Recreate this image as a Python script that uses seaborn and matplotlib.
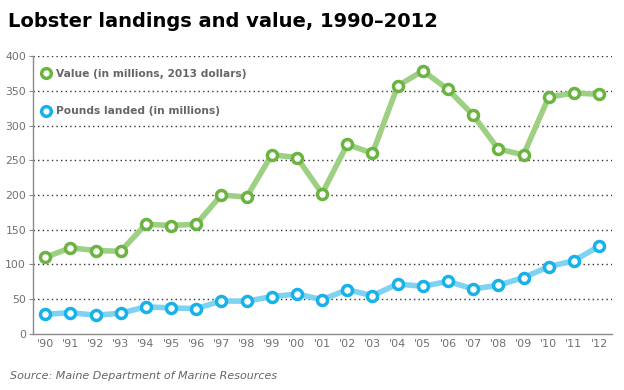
import matplotlib
matplotlib.use("Agg")
import matplotlib.pyplot as plt
from matplotlib.lines import Line2D
import seaborn as sns
import pandas as pd

years = ["'90", "'91", "'92", "'93", "'94", "'95", "'96", "'97", "'98", "'99", "'00",
         "'01", "'02", "'03", "'04", "'05", "'06", "'07", "'08", "'09", "'10", "'11", "'12"]
value = [110, 124, 120, 119, 158, 156, 158, 200, 197, 258, 254,
         202, 273, 260, 357, 379, 352, 315, 266, 258, 341, 347, 345]
pounds = [28, 30.6, 26.8, 29.7, 39, 37.3, 36.4, 47.4, 47, 53.6, 57.4,
          49.3, 63.6, 55, 71.8, 68.4, 75.6, 64.6, 70, 81, 96.7, 105.3, 126.3]
yticks = [0, 50, 100, 150, 200, 250, 300, 350, 400]

df = pd.DataFrame({"idx": range(len(years)), "value": value, "pounds": pounds})

sns.set_theme(style="white")
plt.rcParams["font.family"] = ["DejaVu Sans"]

fig = plt.figure(figsize=(6.24, 3.9), dpi=100)
ax = fig.add_axes([0.053, 0.144, 0.928, 0.712])

green_line, green_mk = "#9dd082", "#6cb442"
blue_line, blue_mk = "#7fd3f2", "#18b2e8"

for col, lc, mc in [("value", green_line, green_mk), ("pounds", blue_line, blue_mk)]:
    sns.lineplot(data=df, x="idx", y=col, ax=ax, color=lc, lw=4, zorder=3)
    sns.scatterplot(data=df, x="idx", y=col, ax=ax, s=52, facecolor="white",
                    edgecolor=mc, linewidth=2.5, zorder=4)

ax.set_xlim(-0.48, 22.52)
ax.set_ylim(0, 400)
ax.set_yticks(yticks)
ax.set_yticklabels([str(t) for t in yticks])
ax.set_xticks(range(len(years)))
ax.set_xticklabels(years)
ax.set_xlabel("")
ax.set_ylabel("")
for t in yticks[1:]:
    ax.axhline(t, color="#333333", lw=1.0, ls=(0, (1, 2.3)), zorder=1)

for s in ["top", "right"]:
    ax.spines[s].set_visible(False)
for s in ["left", "bottom"]:
    ax.spines[s].set_color("#8a8a8a")
    ax.spines[s].set_linewidth(1.0)
ax.tick_params(axis="y", labelcolor="#707070", labelsize=7.8, length=3, width=0.8,
               left=True, pad=2, color="#8a8a8a")
ax.tick_params(axis="x", labelcolor="#707070", labelsize=8, length=0, pad=4)

handles = [
    Line2D([], [], marker="o", ls="none", markersize=7, markerfacecolor="white",
           markeredgecolor=green_mk, markeredgewidth=2.5),
    Line2D([], [], marker="o", ls="none", markersize=7, markerfacecolor="white",
           markeredgecolor=blue_mk, markeredgewidth=2.5),
]
leg = ax.legend(handles, ["Value (in millions, 2013 dollars)", "Pounds landed (in millions)"],
                loc="upper left", bbox_to_anchor=(-0.006, 0.99), frameon=False,
                labelspacing=2.6, handletextpad=0.4, handlelength=1.2,
                prop={"weight": "bold", "size": 7.7})
for t in leg.get_texts():
    t.set_color("#666666")

fig.text(0.013, 0.968, "Lobster landings and value, 1990\u20132012", fontsize=14,
         fontweight="bold", color="#000000", ha="left", va="top")
fig.text(0.016, 0.022, "Source: Maine Department of Marine Resources", fontsize=8,
         fontstyle="italic", color="#666666", ha="left", va="bottom")

fig.savefig("out.png", dpi=100, facecolor="white")
